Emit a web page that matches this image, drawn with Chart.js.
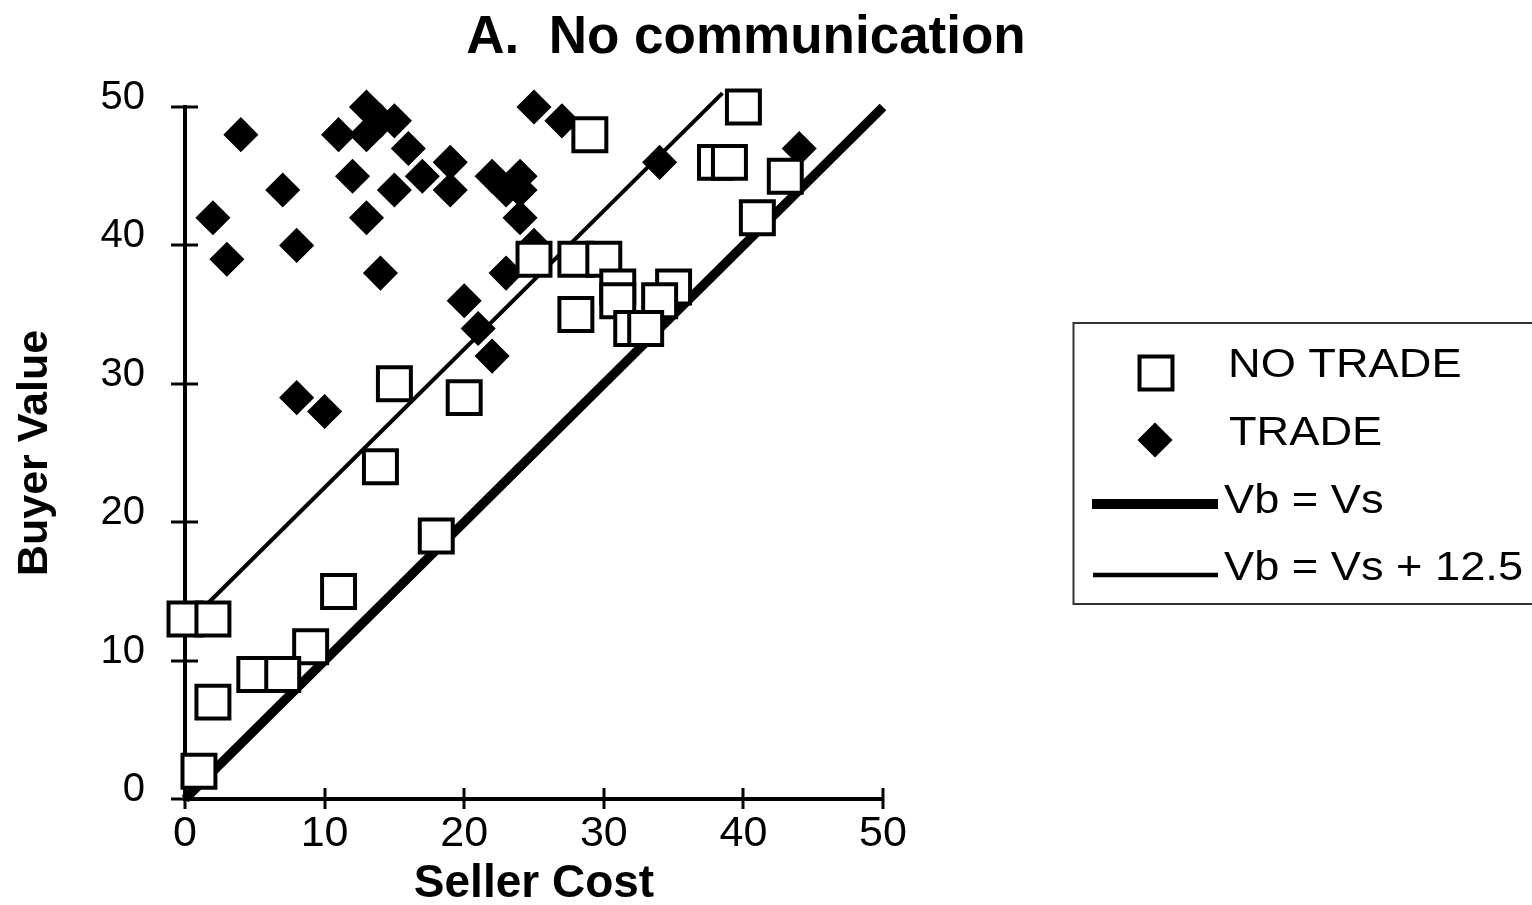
<!DOCTYPE html>
<html>
<head>
<meta charset="utf-8">
<script src="https://cdn.jsdelivr.net/npm/chart.js@4.4.1/dist/chart.umd.min.js"></script>
<style>
html,body{margin:0;padding:0;background:#fff;}
canvas{display:block;}
</style>
</head>
<body>
<canvas id="c" width="1532" height="905" style="width:1532px;height:905px"></canvas>
<script>
// ---- data ----
const titleText = 'A.  No communication';
const xAxisTitle = 'Seller Cost';
const yAxisTitle = 'Buyer Value';
const xTickValues = [0, 10, 20, 30, 40, 50];
const yTickValues = [0, 10, 20, 30, 40, 50];
const seriesLabels = ['NO TRADE', 'TRADE', 'Vb = Vs', 'Vb = Vs + 12.5'];

const noTradeSellerCost = [29, 40, 38, 39, 43, 41, 25, 28, 30, 31, 31, 35, 34, 28, 32, 33, 15, 20, 14, 18, 11, 0, 2, 9, 5, 7, 2, 1];
const noTradeBuyerValue = [48, 50, 46, 46, 45, 42, 39, 39, 39, 37, 36, 37, 36, 35, 34, 34, 30, 29, 24, 19, 15, 13, 13, 11, 9, 9, 7, 2];

const tradeSellerCost = [2, 3, 4, 7, 8, 8, 10, 11, 12, 13, 14, 15, 13, 13, 14, 15, 16, 17, 19, 19, 20, 21, 22, 22, 23, 24, 24, 24, 25, 23, 25, 27, 34, 44];
const tradeBuyerValue = [42, 39, 48, 44, 40, 29, 28, 48, 45, 50, 49, 49, 48, 42, 38, 44, 47, 45, 46, 44, 36, 34, 32, 45, 44, 45, 44, 42, 40, 38, 50, 49, 46, 47];

const equalLineX = [0, 50];
const equalLineY = [0, 50];
const surplusLineX = [0, 38.5];
const surplusLineY = [12.5, 51];

const toPoints = (xs, ys) => xs.map((x, i) => ({x: x, y: ys[i]}));

const FONT = "'Liberation Sans', Arial, Helvetica, sans-serif";

// tick marks crossing the axes
const tickMarks = {
  id: 'tickMarks',
  beforeDatasetsDraw(chart) {
    const {ctx, chartArea} = chart;
    const xs = chart.scales.x, ys = chart.scales.y;
    ctx.save();
    ctx.strokeStyle = '#000';
    ctx.lineWidth = 3;
    xs.ticks.forEach(t => {
      const px = Math.round(xs.getPixelForValue(t.value));
      ctx.beginPath();
      ctx.moveTo(px, chartArea.bottom - 11);
      ctx.lineTo(px, chartArea.bottom + 10);
      ctx.stroke();
    });
    ys.ticks.forEach(t => {
      const py = Math.round(ys.getPixelForValue(t.value));
      ctx.beginPath();
      ctx.moveTo(chartArea.left - 14, py);
      ctx.lineTo(chartArea.left + 13, py);
      ctx.stroke();
    });
    ctx.restore();
  }
};

// title + boxed legend
const overlay = {
  id: 'overlay',
  afterDraw(chart) {
    const ctx = chart.ctx;
    ctx.save();
    // title
    ctx.fillStyle = '#000';
    ctx.font = 'bold 53px ' + FONT;
    ctx.textAlign = 'center';
    ctx.textBaseline = 'alphabetic';
    ctx.fillText(titleText, 746, 53);

    // legend box
    ctx.strokeStyle = '#333';
    ctx.lineWidth = 2;
    ctx.strokeRect(1073.5, 323, 480, 281);

    const rows = [
      {cy: 373, cx: 1156, tx: 1228, ty: 377},
      {cy: 440, cx: 1155, tx: 1229, ty: 445},
      {cy: 504, x0: 1092, x1: 1218, tx: 1224, ty: 513},
      {cy: 575, x0: 1093, x1: 1218, tx: 1224, ty: 580}
    ];
    chart.data.datasets.forEach((ds, i) => {
      const r = rows[i];
      if (!r) return;
      ctx.save();
      if (ds.showLine) {
        ctx.strokeStyle = ds.borderColor;
        ctx.lineWidth = ds.borderWidth + 0.5;
        ctx.lineCap = 'butt';
        ctx.beginPath();
        ctx.moveTo(r.x0, r.cy);
        ctx.lineTo(r.x1, r.cy);
        ctx.stroke();
      } else {
        ctx.fillStyle = ds.pointBackgroundColor;
        ctx.strokeStyle = ds.pointBorderColor;
        ctx.lineWidth = ds.pointBorderWidth;
        Chart.helpers.drawPoint(ctx, {
          pointStyle: ds.pointStyle,
          radius: ds.pointRadius,
          borderWidth: ds.pointBorderWidth,
          rotation: 0
        }, r.cx, r.cy);
      }
      ctx.restore();
      ctx.save();
      ctx.fillStyle = '#000';
      ctx.font = '40px ' + FONT;
      ctx.textAlign = 'left';
      ctx.textBaseline = 'alphabetic';
      ctx.translate(r.tx, r.ty);
      ctx.scale(1.13, 1);
      ctx.fillText(ds.label, 0, 0);
      ctx.restore();
    });
    ctx.restore();
  }
};

new Chart(document.getElementById('c'), {
  type: 'scatter',
  data: {
    datasets: [
      {
        label: seriesLabels[0],
        data: toPoints(noTradeSellerCost, noTradeBuyerValue),
        pointStyle: 'rect',
        pointRadius: 23.3,
        pointBorderWidth: 4,
        pointBorderColor: '#000',
        pointBackgroundColor: '#fff',
        showLine: false,
        clip: false
      },
      {
        label: seriesLabels[1],
        data: toPoints(tradeSellerCost, tradeBuyerValue),
        pointStyle: 'rectRot',
        pointRadius: 16.5,
        pointBorderWidth: 1.5,
        pointBorderColor: '#000',
        pointBackgroundColor: '#000',
        showLine: false,
        clip: false
      },
      {
        label: seriesLabels[2],
        data: toPoints(equalLineX, equalLineY),
        showLine: true,
        borderColor: '#000',
        borderWidth: 9.5,
        borderCapStyle: 'butt',
        pointRadius: 0,
        fill: false,
        clip: false
      },
      {
        label: seriesLabels[3],
        data: toPoints(surplusLineX, surplusLineY),
        showLine: true,
        borderColor: '#000',
        borderWidth: 4,
        borderCapStyle: 'butt',
        pointRadius: 0,
        fill: false,
        clip: false
      }
    ]
  },
  options: {
    responsive: false,
    devicePixelRatio: 1,
    animation: false,
    events: [],
    layout: {padding: {top: 107, left: 0, right: 649, bottom: 0}},
    plugins: {
      legend: {display: false},
      title: {display: false},
      tooltip: {enabled: false}
    },
    scales: {
      x: {
        type: 'linear',
        min: 0,
        max: 50,
        afterBuildTicks: s => { s.ticks = xTickValues.map(v => ({value: v})); },
        afterFit: s => { s.height = 106; },
        grid: {display: false, drawTicks: false},
        border: {display: true, color: '#000', width: 4},
        ticks: {color: '#000', font: {family: FONT, size: 43}, padding: 9, maxRotation: 0},
        title: {display: true, text: xAxisTitle, color: '#000',
          font: {family: FONT, size: 46, weight: 'bold', lineHeight: 0.8}, padding: {top: 0, bottom: 2}}
      },
      y: {
        type: 'linear',
        min: 0,
        max: 50,
        afterBuildTicks: s => { s.ticks = yTickValues.map(v => ({value: v})); },
        afterFit: s => { s.width = 185; },
        grid: {display: false, drawTicks: false},
        border: {display: true, color: '#000', width: 4},
        ticks: {color: '#000', font: {family: FONT, size: 40}, padding: 40, labelOffset: -9},
        title: {display: true, text: yAxisTitle, color: '#000',
          font: {family: FONT, size: 43, weight: 'bold'}, padding: {top: 9, bottom: 0}}
      }
    }
  },
  plugins: [tickMarks, overlay]
});
</script>
</body>
</html>
